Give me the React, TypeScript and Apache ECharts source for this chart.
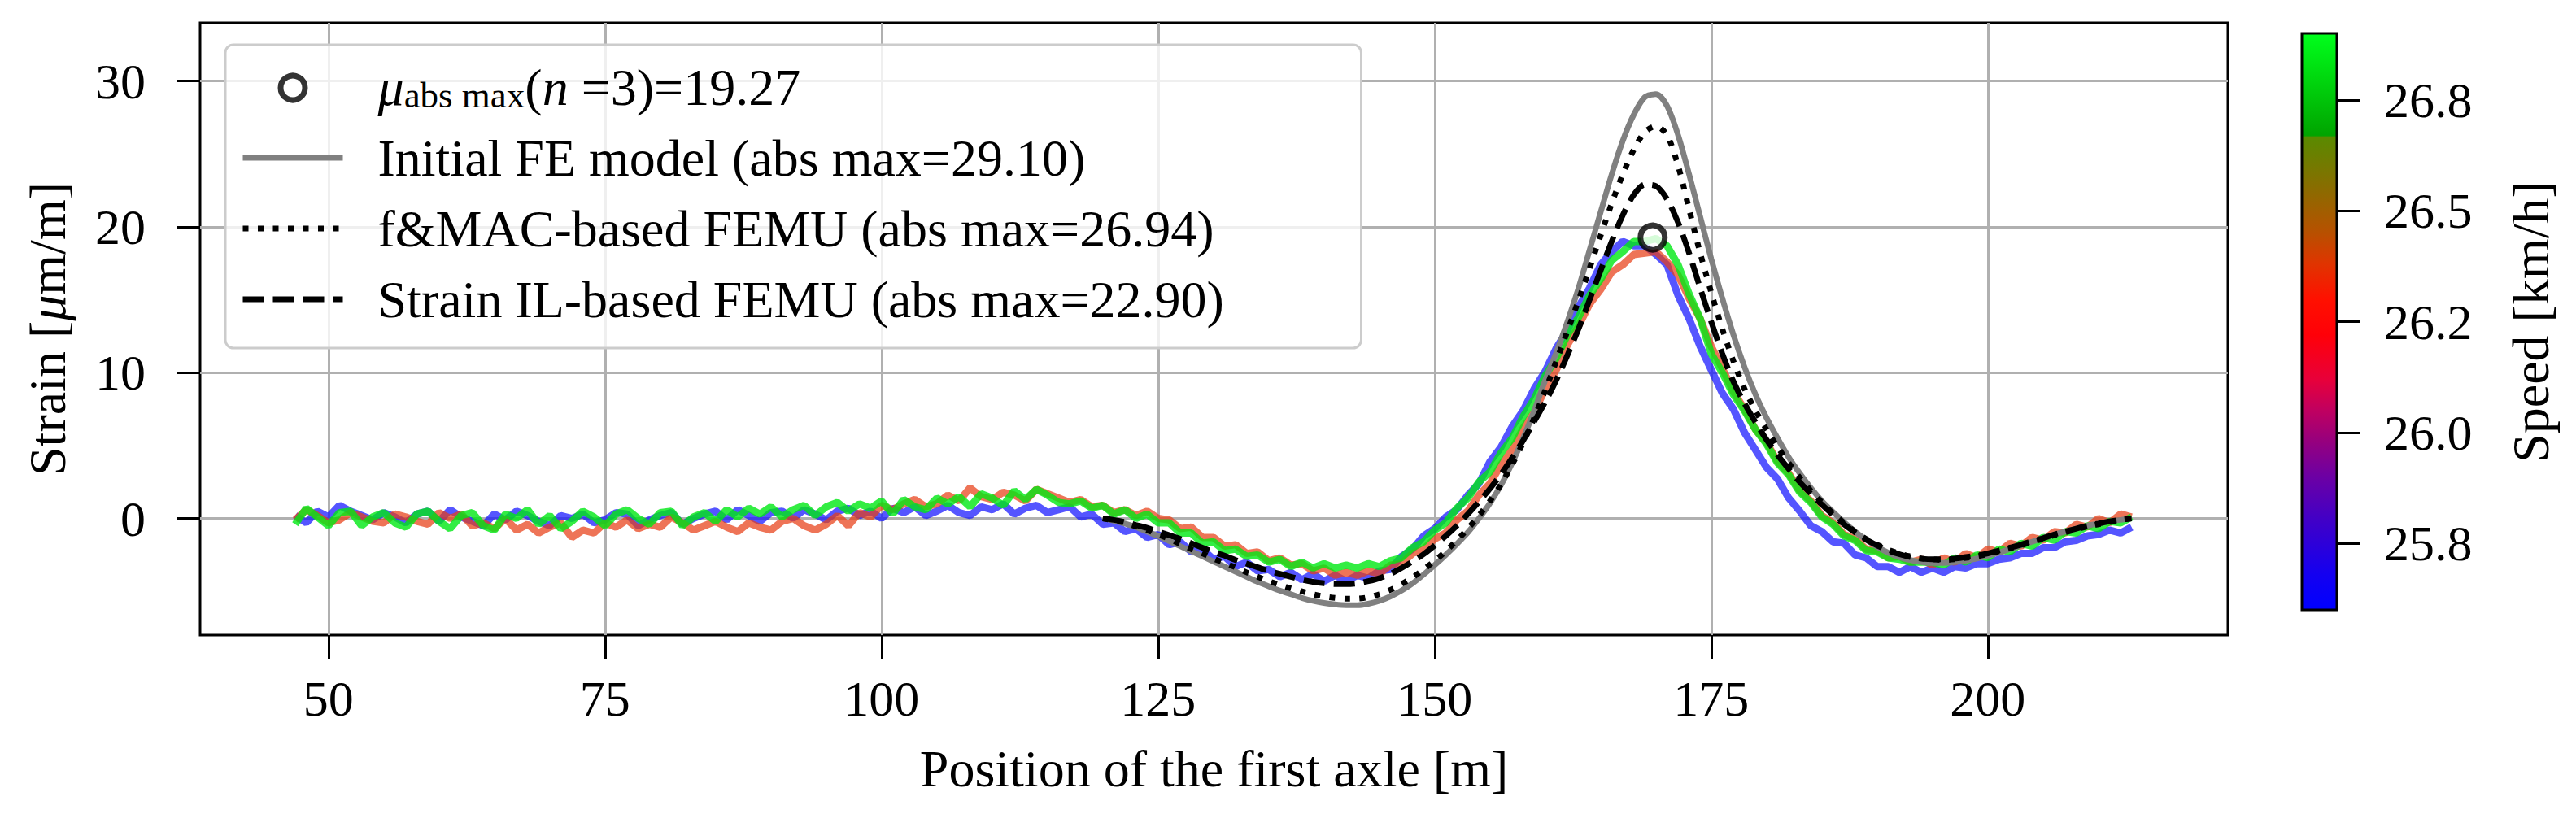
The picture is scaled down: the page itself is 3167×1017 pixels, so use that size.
import React, { useEffect, useRef } from "react";
import * as echarts from "echarts";

const FONT = '"Liberation Serif", "Times New Roman", serif';

// ---- axis settings / ticks ----
const xTicks = [50, 75, 100, 125, 150, 175, 200];
const yTicks = [0, 10, 20, 30];
const xRange = [38.4, 221.7];
const yRange = [-8, 34];

// colour bar (speed)
const cbRange = [25.6, 26.9];
const cbTickValues = [25.75, 26.0, 26.25, 26.5, 26.75];
const cbTickLabels = ["25.8", "26.0", "26.2", "26.5", "26.8"];
const cbStopValues = [25.6, 25.68, 25.8, 25.9, 25.98, 26.05, 26.12, 26.22, 26.3, 26.38, 26.45, 26.55, 26.665, 26.67, 26.8, 26.9];
const cbStopColors = ["#0000ff", "#1400f0", "#4000c8", "#6c00a4", "#96007e", "#c00060", "#e8003a", "#ff0008", "#ff1000", "#e03400", "#b85000", "#8a6c00", "#5a8a00", "#00a400", "#00d80e", "#00ff1c"];

// legend names
const muName = "mu";
const feName = "Initial FE model (abs max=29.10)";
const macName = "f&MAC-based FEMU (abs max=26.94)";
const ilName = "Strain IL-based FEMU (abs max=22.90)";

// mean abs max marker
const muPoint = [169.7, 19.27];

// ---- measured strain (three runs, different speeds) ----
const posMeasured = [
  47, 48, 49, 50, 51, 52, 53, 54, 55, 56,
  57, 58, 59, 60, 61, 62, 63, 64, 65, 66,
  67, 68, 69, 70, 71, 72, 73, 74, 75, 76,
  77, 78, 79, 80, 81, 82, 83, 84, 85, 86,
  87, 88, 89, 90, 91, 92, 93, 94, 95, 96,
  97, 98, 99, 100, 101, 102, 103, 104, 105, 106,
  107, 108, 109, 110, 111, 112, 113, 114, 115, 116,
  117, 118, 119, 120, 121, 122, 123, 124, 125, 126,
  127, 128, 129, 130, 131, 132, 133, 134, 135, 136,
  137, 138, 139, 140, 141, 142, 143, 144, 145, 146,
  147, 148, 149, 150, 151, 152, 153, 154, 155, 156,
  157, 158, 159, 160, 161, 162, 163, 164, 165, 166,
  167, 168, 169, 170, 171, 172, 173, 174, 175, 176,
  177, 178, 179, 180, 181, 182, 183, 184, 185, 186,
  187, 188, 189, 190, 191, 192, 193, 194, 195, 196,
  197, 198, 199, 200, 201, 202, 203, 204, 205, 206,
  207, 208, 209, 210, 211, 212, 213,
];

// run at ~25.7 km/h (blue)
const strainBlue = [
  0.2, -0.3, 0.5, 0.1, 0.9, 0.5, 0.2, -0.1, 0.4, 0.1,
  -0.3, 0.3, 0.5, -0.2, 0.6, 0.1, -0.2, -0.5, 0.3, -0.1,
  0.5, 0.2, -0.2, -0.5, 0.2, 0.0, 0.3, -0.3, -0.1, 0.4,
  0.3, -0.5, -0.1, 0.2, 0.4, -0.4, 0.0, 0.3, 0.5, -0.1,
  0.6, 0.2, -0.2, 0.4, 0.5, 0.0, 0.6, 0.3, -0.1, 0.5,
  0.7, 0.2, 0.5, 0.0, 0.7, 0.4, 0.8, 0.2, 0.5, 0.9,
  0.4, 0.2, 0.8, 0.6, 1.0, 0.3, 0.7, 0.9, 0.4, 0.6,
  0.8, 0.1, 0.3, -0.4, -0.3, -0.9, -0.7, -1.3, -1.1, -1.8,
  -1.6, -2.3, -2.1, -2.8, -2.6, -3.3, -3.0, -3.6, -3.5, -4.0,
  -3.7, -4.2, -3.8, -4.3, -3.9, -4.3, -3.9, -4.1, -3.6, -3.5,
  -2.6, -2.1, -1.2, -0.7, 0.1, 0.6, 1.6, 2.4, 3.9, 4.9,
  6.3, 7.4, 8.9, 10.1, 11.7, 12.9, 14.5, 15.8, 17.4, 18.3,
  19.0, 18.7, 18.7, 18.1, 17.4, 15.3, 13.7, 11.8, 10.2, 8.6,
  7.5, 5.9, 4.7, 3.5, 2.7, 1.4, 0.5, -0.5, -0.9, -1.6,
  -1.7, -2.5, -2.7, -3.3, -3.3, -3.7, -3.3, -3.7, -3.4, -3.7,
  -3.3, -3.4, -3.1, -3.1, -2.8, -2.7, -2.4, -2.4, -2.0, -2.0,
  -1.6, -1.5, -1.2, -1.1, -0.8, -1.0, -0.6,
];

// run at ~26.4 km/h (orange-red)
const strainOrange = [
  -0.1, 0.6, 0.2, -0.3, -0.1, 0.4, 0.1, -0.2, -0.3, 0.3,
  0.1, -0.2, -0.4, 0.4, 0.0, 0.3, -0.5, -0.3, -0.7, 0.0,
  -0.8, -0.4, -1.0, -0.6, -0.3, -1.3, -0.8, -1.0, -0.3, -0.6,
  -0.1, -0.7, -0.4, -0.6, 0.1, -0.3, -0.8, -0.5, -0.2, -0.6,
  -0.9, -0.3, -0.6, -0.8, -0.2, 0.0, -0.5, -0.8, -0.4, 0.2,
  -0.5, 0.4, 0.1, 0.9, 0.6, 1.0, 1.3, 0.8, 1.0, 1.6,
  1.2, 2.1, 1.5, 1.3, 1.8, 1.6, 1.2, 2.0, 1.7, 1.4,
  1.1, 1.3, 0.8, 0.9, 0.4, 0.6, 0.2, 0.5, 0.0, -0.1,
  -0.7, -0.6, -1.3, -1.3, -1.9, -1.8, -2.4, -2.3, -2.9, -2.7,
  -3.2, -3.1, -3.6, -3.4, -3.9, -3.7, -3.9, -3.6, -3.8, -3.2,
  -3.1, -2.4, -2.1, -1.4, -1.0, -0.1, 0.5, 1.6, 2.4, 3.7,
  4.7, 6.2, 7.3, 8.9, 10.2, 11.9, 13.2, 14.7, 15.7, 16.9,
  17.4, 18.1, 18.2, 18.3, 17.6, 16.7, 15.1, 13.7, 11.8, 10.3,
  8.7, 7.5, 6.1, 5.2, 3.9, 3.1, 1.9, 1.2, 0.2, -0.3,
  -1.1, -1.4, -2.1, -2.2, -2.7, -2.6, -3.0, -2.8, -3.2, -2.7,
  -3.0, -2.4, -2.7, -2.1, -2.3, -1.7, -1.9, -1.3, -1.5, -0.9,
  -1.0, -0.4, -0.6, 0.0, -0.3, 0.3, 0.1,
];

// run at ~26.9 km/h (green)
const strainGreen = [
  -0.4, 0.7, 0.1, -0.5, 0.4, 0.5, -0.5, 0.1, 0.4, -0.3,
  -0.6, 0.3, 0.5, -0.2, -0.7, 0.2, 0.4, -0.5, -0.8, 0.3,
  0.0, 0.6, -0.4, 0.2, -0.7, -0.2, 0.5, 0.1, -0.5, 0.3,
  0.6, 0.0, -0.4, 0.4, 0.5, -0.5, 0.1, 0.4, -0.2, 0.6,
  0.1, 0.7, 0.3, 0.8, 0.1, 0.6, 0.9, 0.2, 0.8, 1.1,
  0.5, 1.0, 0.7, 1.2, 0.3, 1.3, 0.8, 0.6, 1.4, 1.0,
  1.5, 0.8, 1.7, 1.4, 0.9, 1.9, 1.3, 2.0, 1.6, 1.1,
  1.0, 1.2, 0.7, 0.9, 0.3, 0.6, 0.0, 0.3, -0.3, -0.3,
  -1.0, -1.0, -1.7, -1.6, -2.2, -2.1, -2.6, -2.5, -3.0, -2.8,
  -3.3, -3.0, -3.4, -3.1, -3.4, -3.2, -3.4, -3.1, -3.3, -2.9,
  -2.7, -2.0, -1.6, -0.8, -0.3, 0.7, 1.4, 2.5, 3.2, 4.5,
  5.5, 7.0, 8.2, 9.8, 11.0, 12.6, 13.8, 15.3, 16.4, 17.7,
  18.3, 19.0, 19.0, 19.2, 18.7, 17.4, 15.4, 13.7, 11.3, 10.0,
  8.5, 7.4, 6.1, 5.1, 3.8, 3.0, 1.8, 1.1, 0.1, -0.4,
  -1.2, -1.5, -2.2, -2.3, -2.7, -2.8, -3.0, -3.0, -3.0, -3.2,
  -2.7, -3.0, -2.5, -2.7, -2.1, -2.3, -1.7, -1.9, -1.3, -1.5,
  -0.9, -1.0, -0.5, -0.7, -0.2, -0.3, 0.1,
];

// ---- model predictions ----
const posModel = [
  120, 121, 122, 123, 124, 125, 126, 127, 128, 129, 130, 131, 132, 133, 134, 135, 136, 137, 138, 139,
  140, 141, 142, 143, 144, 145, 146, 147, 148, 149, 150, 151, 152, 153, 154, 155, 156, 157, 158, 159,
  160, 161, 162, 163, 164, 165, 166, 167, 168, 169, 170, 171, 172, 173, 174, 175, 176, 177, 178, 179,
  180, 181, 182, 183, 184, 185, 186, 187, 188, 189, 190, 191, 192, 193, 194, 195, 196, 197, 198, 199,
  200, 201, 202, 203, 204, 205, 206, 207, 208, 209, 210, 211, 212, 213,
];

const strainInitialFE = [
  0.0, -0.15, -0.35, -0.6, -0.9, -1.2, -1.55, -1.9, -2.25, -2.6, -2.95, -3.3, -3.65, -4.0, -4.35, -4.65, -4.95, -5.2, -5.45, -5.65,
  -5.8, -5.9, -5.95, -5.95, -5.85, -5.65, -5.35, -4.95, -4.45, -3.85, -3.2, -2.5, -1.75, -0.95, 0.0, 1.05, 2.3, 3.8, 5.5, 7.4,
  9.5, 11.4, 13.5, 15.8, 18.4, 21.0, 23.6, 25.9, 27.7, 28.9, 29.1, 28.3, 26.3, 23.6, 20.7, 17.8, 15.1, 12.6, 10.4, 8.5,
  6.9, 5.5, 4.2, 3.1, 2.1, 1.2, 0.45, -0.25, -0.9, -1.45, -1.95, -2.35, -2.65, -2.85, -3.0, -3.05, -3.05, -3.0, -2.9, -2.75,
  -2.55, -2.35, -2.1, -1.85, -1.6, -1.35, -1.1, -0.9, -0.7, -0.5, -0.35, -0.2, -0.1, 0.0,
];

const strainMAC = [
  0.0, -0.15, -0.3, -0.55, -0.8, -1.1, -1.4, -1.75, -2.1, -2.4, -2.75, -3.05, -3.35, -3.7, -4.0, -4.3, -4.55, -4.8, -5.0, -5.2,
  -5.35, -5.45, -5.5, -5.5, -5.4, -5.2, -4.9, -4.5, -4.05, -3.5, -2.9, -2.25, -1.5, -0.7, 0.2, 1.2, 2.35, 3.7, 5.2, 6.9,
  8.8, 10.8, 12.85, 14.95, 17.15, 19.4, 21.6, 23.6, 25.3, 26.5, 26.9, 26.3, 24.2, 21.2, 18.2, 15.5, 13.0, 10.8, 8.9, 7.4,
  6.1, 4.9, 3.8, 2.8, 1.9, 1.1, 0.35, -0.3, -0.9, -1.4, -1.8, -2.15, -2.4, -2.6, -2.75, -2.8, -2.85, -2.8, -2.7, -2.6,
  -2.45, -2.25, -2.05, -1.85, -1.6, -1.4, -1.15, -0.95, -0.75, -0.55, -0.4, -0.25, -0.1, 0.0,
];

const strainIL = [
  0.0, -0.1, -0.25, -0.45, -0.65, -0.9, -1.15, -1.4, -1.7, -2.0, -2.3, -2.55, -2.85, -3.1, -3.35, -3.6, -3.8, -4.0, -4.2, -4.35,
  -4.45, -4.5, -4.5, -4.45, -4.3, -4.1, -3.8, -3.4, -2.95, -2.45, -1.85, -1.2, -0.5, 0.3, 1.15, 2.05, 3.05, 4.15, 5.35, 6.65,
  8.0, 9.5, 11.2, 13.0, 15.0, 17.0, 19.0, 20.8, 22.2, 22.9, 22.8, 21.9, 20.3, 18.2, 15.8, 13.5, 11.3, 9.4, 7.9, 6.6,
  5.4, 4.35, 3.4, 2.5, 1.7, 0.95, 0.25, -0.4, -0.95, -1.45, -1.85, -2.2, -2.45, -2.65, -2.75, -2.8, -2.8, -2.75, -2.65, -2.55,
  -2.4, -2.2, -2.0, -1.8, -1.55, -1.35, -1.1, -0.9, -0.7, -0.5, -0.35, -0.2, -0.1, 0.0,
];

const pair = (xs: number[], ys: number[]) => xs.map((x, i) => [x, ys[i]]);

const dotted = [7, 11.5];
const dashed = [26, 11];

export default function App() {
  const ref = useRef<HTMLDivElement>(null);

  useEffect(() => {
    if (!ref.current) return;
    const chart = echarts.init(ref.current, undefined, { renderer: "svg" });

    const span = cbRange[1] - cbRange[0];
    const stops = cbStopValues.map((v, i) => ({ offset: (v - cbRange[0]) / span, color: cbStopColors[i] }));

    const tickStyle = { color: "#000", width: 3 };
    const labelStyle = { fontFamily: FONT, fontSize: 62, color: "#000" };
    const titleStyle = { fontFamily: FONT, fontSize: 64, color: "#000" };
    const hidden = { opacity: 0 };

    const option: any = {
      animation: false,
      backgroundColor: "#ffffff",
      grid: [
        { left: 246, top: 28, width: 2493, height: 753, show: true, borderColor: "#000", borderWidth: 3, backgroundColor: "transparent" },
        { left: 2830, top: 41, width: 43, height: 709, show: false },
      ],
      xAxis: [
        {
          type: "value", gridIndex: 0, min: xRange[0], max: xRange[1],
          axisLine: { show: false, onZero: false },
          axisTick: { show: true, customValues: xTicks, length: 29, lineStyle: tickStyle },
          axisLabel: { customValues: xTicks, margin: 47, ...labelStyle },
          splitLine: { show: true, lineStyle: { color: "#b0b0b0", width: 3 } },
          name: "Position of the first axle [m]", nameLocation: "middle", nameGap: 132,
          nameTextStyle: { ...titleStyle },
        },
        { type: "value", gridIndex: 1, min: 0, max: 1, show: false },
      ],
      yAxis: [
        {
          type: "value", gridIndex: 0, min: yRange[0], max: yRange[1],
          axisLine: { show: false, onZero: false },
          axisTick: { show: true, customValues: yTicks, length: 29, lineStyle: tickStyle },
          axisLabel: { customValues: yTicks, margin: 67, ...labelStyle },
          splitLine: { show: true, lineStyle: { color: "#b0b0b0", width: 3 } },
          name: "{t|Strain [}{i|μ}{t|m/m]}", nameLocation: "middle", nameGap: 156, nameRotate: 90,
          nameTextStyle: {
            ...titleStyle,
            rich: {
              t: { ...titleStyle },
              i: { ...titleStyle, fontStyle: "italic" },
            },
          },
        },
        {
          type: "value", gridIndex: 1, min: cbRange[0], max: cbRange[1], position: "right",
          axisLine: { show: false, onZero: false },
          splitLine: { show: false },
          axisTick: { show: true, customValues: cbTickValues, length: 29, lineStyle: tickStyle },
          axisLabel: {
            customValues: cbTickValues, margin: 58, ...labelStyle,
            formatter: (v: number) => {
              const k = cbTickValues.findIndex((t) => Math.abs(t - v) < 1e-6);
              return k >= 0 ? cbTickLabels[k] : "";
            },
          },
          name: "Speed [km/h]", nameLocation: "middle", nameGap: 206, nameRotate: 90,
          nameTextStyle: { ...titleStyle },
        },
      ],
      legend: {
        left: 277, top: 55, orient: "vertical",
        data: [
          { name: muName, itemStyle: { color: "#ffffff", borderColor: "#000", borderWidth: 7 } },
          { name: feName, itemStyle: hidden, lineStyle: { color: "#808080", width: 7, type: "solid" } },
          { name: macName, itemStyle: hidden, lineStyle: { color: "#000", width: 7, type: dotted, cap: "butt" } },
          { name: ilName, itemStyle: hidden, lineStyle: { color: "#000", width: 7, type: dashed, cap: "butt" } },
        ],
        itemWidth: 123, itemHeight: 30, itemGap: 23,
        padding: [20, 30, 28, 18],
        backgroundColor: "rgba(255,255,255,0.8)",
        borderColor: "#cccccc", borderWidth: 3, borderRadius: 10,
        selectedMode: false,
        textStyle: {
          fontFamily: FONT, fontSize: 64, lineHeight: 62, color: "#000", padding: [0, 0, 0, 38], width: 1179,
          rich: {
            i: { fontFamily: FONT, fontSize: 64, lineHeight: 62, fontStyle: "italic", color: "#000", verticalAlign: "bottom" },
            t: { fontFamily: FONT, fontSize: 64, lineHeight: 62, color: "#000", verticalAlign: "bottom" },
            sub: { fontFamily: FONT, fontSize: 45, lineHeight: 30, color: "#000", verticalAlign: "bottom" },
          },
        },
        formatter: (name: string) =>
          name === muName ? "{i|μ}{sub|abs max}{t|(}{i|n}{t| =3)=19.27}" : name,
      },
      series: [
        {
          type: "custom", name: "colorbar", xAxisIndex: 1, yAxisIndex: 1,
          data: [[0, cbRange[0], 1, cbRange[1]]],
          renderItem: (_p: any, api: any) => {
            const tl = api.coord([api.value(0), api.value(3)]);
            const br = api.coord([api.value(2), api.value(1)]);
            return {
              type: "rect",
              shape: { x: tl[0], y: tl[1], width: br[0] - tl[0], height: br[1] - tl[1] },
              style: { fill: new echarts.graphic.LinearGradient(0, 1, 0, 0, stops), stroke: "#000", lineWidth: 3 },
            };
          },
          silent: true,
        },
        {
          type: "line", name: "run 25.7 km/h", data: pair(posMeasured, strainBlue),
          showSymbol: false, symbol: "none", lineStyle: { color: "rgba(20,20,255,0.72)", width: 9 }, z: 2,
        },
        {
          type: "line", name: "run 26.4 km/h", data: pair(posMeasured, strainOrange),
          showSymbol: false, symbol: "none", lineStyle: { color: "rgba(232,62,22,0.72)", width: 9 }, z: 2,
        },
        {
          type: "line", name: "run 26.9 km/h", data: pair(posMeasured, strainGreen),
          showSymbol: false, symbol: "none", lineStyle: { color: "rgba(0,232,20,0.8)", width: 9 }, z: 2,
        },
        {
          type: "line", name: feName, data: pair(posModel, strainInitialFE), smooth: 0.3,
          showSymbol: false, symbol: "none", color: "#808080",
          lineStyle: { color: "#808080", width: 7 }, z: 3,
        },
        {
          type: "line", name: macName, data: pair(posModel, strainMAC), smooth: 0.3,
          showSymbol: false, symbol: "none", color: "#000",
          lineStyle: { color: "#000", width: 7, type: dotted, cap: "butt" }, z: 3,
        },
        {
          type: "line", name: ilName, data: pair(posModel, strainIL), smooth: 0.3,
          showSymbol: false, symbol: "none", color: "#000",
          lineStyle: { color: "#000", width: 7, type: dashed, cap: "butt" }, z: 3,
        },
        {
          type: "scatter", name: muName, data: [muPoint], symbol: "circle", symbolSize: 30,
          itemStyle: { color: "#ffffff", borderColor: "#000", borderWidth: 7 }, z: 5,
        },
      ],
    };

    chart.setOption(option);
    return () => chart.dispose();
  }, []);

  return (
    <div
      ref={ref}
      style={{ position: "fixed", left: 0, top: 0, width: 3167, height: 1017, background: "#fff" }}
    />
  );
}
